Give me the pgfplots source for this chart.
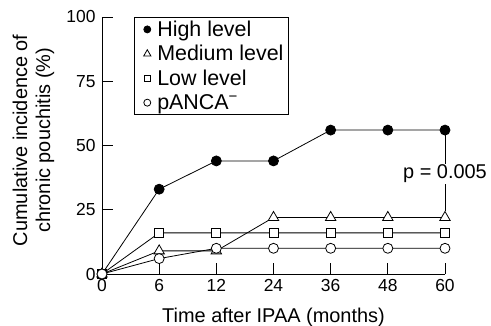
\documentclass[border=0pt]{standalone}
\usepackage{pgfplots}
\pgfplotsset{compat=1.18}
\usepackage{fontspec}
\setmainfont{Liberation Sans}
\begin{document}
\begin{tikzpicture}
\useasboundingbox (-102bp,-52bp) rectangle (389bp,274bp);
\begin{axis}[
  scale only axis, width=343bp, height=257bp,
  xmin=0, xmax=6, ymin=0, ymax=100,
  axis x line=bottom, axis y line=left,
  axis line style={-, line width=0.8bp},
  xtick={0,1,2,3,4,5,6}, xticklabels={0,6,12,24,36,48,60},
  ytick={0,25,50,75,100},
  tick align=inside, major tick length=11bp,
  tick style={line width=0.8bp, black},
  font=\fontsize{20}{23}\selectfont,
  /pgf/number format/assume math mode=true,
  ticklabel style={font=\fontsize{17.5}{20}\selectfont},
  xticklabel style={yshift=-2bp},
  yticklabel style={xshift=-3bp},
  xlabel={Time after IPAA (months)},
  xlabel style={at={(axis description cs:0.5,-0.168)}, anchor=center},
  ylabel={Cumulative incidence of\\chronic pouchitis (\%)},
  ylabel style={align=center, at={(axis description cs:-0.2,0.52)}, anchor=center},
  clip=false,
  legend cell align=left,
  legend style={at={(axis description cs:0.093,1.0)}, anchor=north west, draw=black, line width=0.8bp,
    font=\fontsize{21.5}{24}\selectfont, row sep=4.5bp, inner xsep=2bp, inner ysep=2bp,
    nodes={inner xsep=3bp, inner ysep=1.5bp}},
  legend image code/.code={\path[draw=none, fill=none] (0bp,0bp) -- (18bp,0bp);
    \draw[#1, only marks, every mark/.append style={scale=0.7}] plot coordinates {(11bp,0bp)};},
]
\addplot[black, line width=0.8bp, mark=*, mark size=5bp] coordinates {(0,0)(1,33)(2,44)(3,44)(4,56)(5,56)(6,56)};
\addlegendentry{High level}
\addplot[black, line width=0.8bp, mark=triangle*, mark size=6bp, mark options={fill=white}] coordinates {(0,0)(1,9)(2,9)(3,22)(4,22)(5,22)(6,22)};
\addlegendentry{Medium level}
\addplot[black, line width=0.8bp, mark=square*, mark size=4.5bp, mark options={fill=white}] coordinates {(0,0)(1,16)(2,16)(3,16)(4,16)(5,16)(6,16)};
\addlegendentry{Low level}
\addplot[black, line width=0.8bp, mark=*, mark size=5bp, mark options={fill=white}] coordinates {(0,0)(1,6)(2,10)(3,10)(4,10)(5,10)(6,10)};
\addlegendentry{pANCA\textsuperscript{−}}
\draw[line width=0.8bp, shorten <=5bp, shorten >=6bp] (axis cs:6,56) -- (axis cs:6,22);
\node[fill=white, inner sep=1bp, font=\fontsize{20}{23}\selectfont] at (axis cs:6,39) {p = 0.005};
\end{axis}
\end{tikzpicture}
\end{document}
